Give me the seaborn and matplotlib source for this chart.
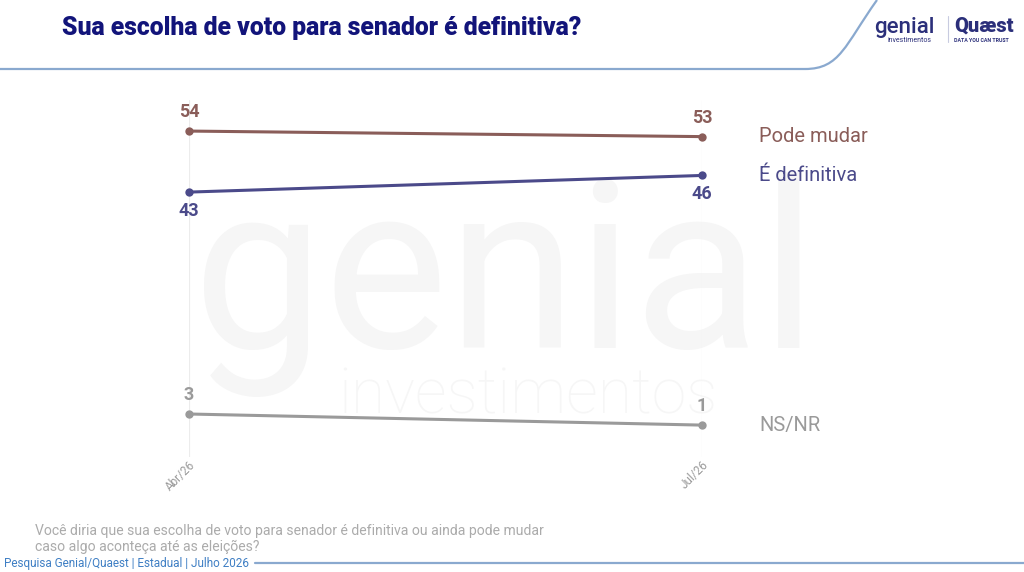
import numpy as np
import pandas as pd
import matplotlib
matplotlib.use("Agg")
import matplotlib.pyplot as plt
from matplotlib.path import Path
from matplotlib.patches import PathPatch
import seaborn as sns

# dados
periodos = ["Abr/26", "Jul/26"]
series = ["Pode mudar", "É definitiva", "NS/NR"]
pode_mudar = [54, 53]
e_definitiva = [43, 46]
ns_nr = [3, 1]
cores = {"Pode mudar": "#8a5d59", "É definitiva": "#4b4a8a", "NS/NR": "#9a9a9a"}

df = pd.DataFrame({
    "x": [0, 1] * 3,
    "valor": pode_mudar + e_definitiva + ns_nr,
    "serie": [s for s in series for _ in periodos],
})

sns.set_theme(style="white")
plt.rcParams["font.family"] = ["Roboto", "DejaVu Sans"]

fig = plt.figure(figsize=(10.24, 5.72), dpi=100)
fig.patch.set_facecolor("white")

# marca d'agua
fig.text(193 / 1024, 1 - 348 / 572, "genial", fontsize=168, color="#f6f6f6",
         ha="left", va="baseline", zorder=0)
fig.text(338 / 1024, 1 - 413 / 572, "investimentos", fontsize=45, color="#f6f6f6",
         fontweight="light", ha="left", va="baseline", zorder=0)

ax = fig.add_axes([189 / 1024, 1 - 457 / 572, 513 / 1024, 357 / 572])
ax.set_zorder(2)
ax.patch.set_alpha(0)
sns.lineplot(data=df, x="x", y="valor", hue="serie", palette=cores, marker="o",
             markersize=6, markeredgewidth=0, linewidth=2.2, legend=False, ax=ax)
for l in ax.lines:
    l.set_clip_on(False)

ax.set_xlim(0, 1)
ax.set_ylim(-4.75, 59.6)
ax.set_yticks([])
ax.set_xticks([0, 1])
ax.set_xticklabels(periodos, rotation=45, ha="right", va="top", rotation_mode="anchor",
                   color="#9a9a9a", fontsize=8.5)
ax.tick_params(axis="x", length=0, pad=1)
ax.set_xlabel("")
ax.set_ylabel("")
for s in ax.spines.values():
    s.set_visible(False)
for xv in [0, 1]:
    ax.axvline(xv, color="#ececec", linewidth=0.8, zorder=0)

# rotulos de valor
acima = {"Pode mudar": [True, True], "É definitiva": [False, False], "NS/NR": [True, True]}
for serie, vals in zip(series, [pode_mudar, e_definitiva, ns_nr]):
    for i, v in enumerate(vals):
        up = acima[serie][i]
        ax.annotate(str(v), (i, v), xytext=(0, 7 if up else -7), textcoords="offset points",
                    ha="center", va="bottom" if up else "top", fontsize=13,
                    fontweight="bold", color=cores[serie], annotation_clip=False)

# nomes das series a direita
for serie, vals in zip(series, [pode_mudar, e_definitiva, ns_nr]):
    ax.annotate(serie, (1, vals[-1]), xytext=(41, 0), textcoords="offset points",
                ha="left", va="center", fontsize=14.5, color=cores[serie],
                annotation_clip=False)

# titulo e cabecalho
fig.text(62 / 1024, 1 - 28 / 572, "Sua escolha de voto para senador é definitiva?",
         fontsize=17.8, fontweight="black", color="#12147a", ha="left", va="center")

verts = [(0, 69), (805, 69), (840, 69), (845, 45), (877, 0)]
codes = [Path.MOVETO, Path.LINETO, Path.CURVE4, Path.CURVE4, Path.CURVE4]
verts = [(x / 1024, 1 - y / 572) for x, y in verts]
fig.add_artist(PathPatch(Path(verts, codes), fill=False, edgecolor="#8aa9cf",
                         linewidth=1.6, transform=fig.transFigure))

fig.text(874 / 1024, 1 - 27 / 572, "genial", fontsize=16, color="#2b2f7a",
         fontweight="medium", ha="left", va="center")
fig.text(888 / 1024, 1 - 40 / 572, "investimentos", fontsize=5, color="#2b2f7a",
         ha="left", va="center")
fig.add_artist(plt.Line2D([948 / 1024, 948 / 1024], [1 - 16 / 572, 1 - 42 / 572],
                          color="#c8cbe0", linewidth=0.8))
fig.text(954 / 1024, 1 - 26 / 572, "Quæst", fontsize=14.5, fontweight="black",
         color="#2b2f7a", ha="left", va="center")
fig.text(954 / 1024, 1 - 40 / 572, "DATA YOU CAN TRUST", fontsize=3.8, fontweight="bold",
         color="#2b2f7a", ha="left", va="center")

# rodape
fig.text(35 / 1024, 1 - 539 / 572,
         "Você diria que sua escolha de voto para senador é definitiva ou ainda pode mudar\n"
         "caso algo aconteça até as eleições?",
         fontsize=10.1, color="#ababab", ha="left", va="center", linespacing=1.15)
fig.text(4 / 1024, 1 - 563 / 572, "Pesquisa Genial/Quaest | Estadual | Julho 2026",
         fontsize=8.5, color="#3f7fc4", ha="left", va="center")
fig.add_artist(plt.Line2D([255 / 1024, 1.0], [1 - 563 / 572, 1 - 563 / 572],
                          color="#8aa9cf", linewidth=1.6))

fig.savefig("out.png", dpi=100, facecolor="white")
